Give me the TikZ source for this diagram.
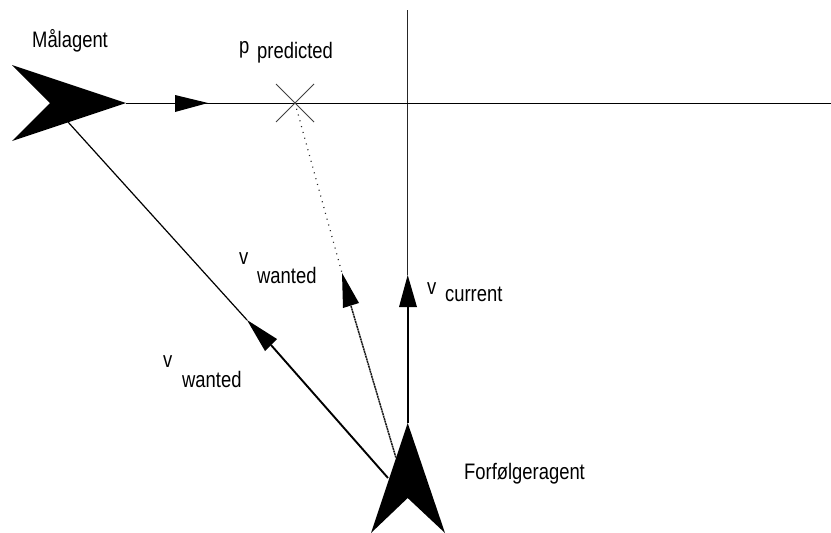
\documentclass[tikz,border=0pt]{standalone}
\usepackage{fontspec}
\setmainfont{Liberation Sans}
\begin{document}
\begin{tikzpicture}[x=1pt,y=-1pt,
  lbl/.style={inner sep=0pt,anchor=base west,font=\fontsize{20}{22}\selectfont,xscale=0.92,yscale=1.12},
  horizl/.style={line width=0.9pt,black},
  thinl/.style={line width=1.2pt,black},
  thickl/.style={line width=1.9pt,black},
  dotl/.style={line width=1.2pt,black!85,dash pattern=on 1pt off 5pt},
  densel/.style={line width=1.5pt,black!90,dash pattern=on 2pt off 0.6pt},
  crossl/.style={line width=0.9pt,black!75},
  solidblack/.style={fill=black,draw=none}]
\useasboundingbox (0,0) rectangle (831,533);
\fill[white] (0,0) rectangle (831,533);
% coordinates
\coordinate (tip1) at (126,103);
\coordinate (end1) at (831,103);
\coordinate (pp) at (295,103);
\coordinate (vtop) at (407.7,10);
\coordinate (curtip) at (407.7,275);
\coordinate (curbase) at (407.7,307);
\coordinate (ftip) at (407.7,423);
\coordinate (wtip) at (247,320);
\coordinate (wbase) at (271,345);
\coordinate (wend) at (388,478);
\coordinate (mstart) at (68,122);
\coordinate (dtip) at (342,273);
\coordinate (dbase) at (351,306);
\coordinate (dend) at (396,458);
% lines
\draw[line width=1.5pt,black!85] (vtop) -- (curtip);
\draw[horizl] (tip1) -- (end1);
\draw[thickl] (curbase) -- (ftip);
\draw[thinl] (mstart) -- (wtip);
\draw[thickl] (wbase) -- (wend);
\draw[dotl] (pp) -- (dtip);
\draw[densel] (dbase) -- (dend);
% cross
\draw[crossl] (276,84) -- (314,122);
\draw[crossl] (276,122) -- (314,84);
% agents
\fill[solidblack] (tip1) -- (12,65) -- (50,103) -- (12,141) -- cycle;
\fill[solidblack] (ftip) -- (371,533) -- (407.7,498) -- (445,533) -- cycle;
% arrowheads
\fill[solidblack] (208,103) -- (175,95) -- (175,112) -- cycle;
\fill[solidblack] (curtip) -- (399,307) -- (417,307) -- cycle;
\fill[solidblack] (wtip) -- (277,339) -- (265,351) -- cycle;
\fill[solidblack] (dtip) -- (359,303) -- (343,308) -- cycle;
% labels
\node[lbl] (malagent) at (32,47) {Målagent};
\node[lbl] (pl) at (239,53) {p};
\node[lbl] (predicted) at (257,58) {predicted};
\node[lbl] (v1) at (239,264) {v};
\node[lbl] (w1) at (257,283) {wanted};
\node[lbl] (v2) at (163,367) {v};
\node[lbl] (w2) at (182,387) {wanted};
\node[lbl] (v3) at (427,294) {v};
\node[lbl] (cur) at (445,301) {current};
\node[lbl] (forf) at (464,479) {Forfølgeragent};
\end{tikzpicture}
\end{document}
